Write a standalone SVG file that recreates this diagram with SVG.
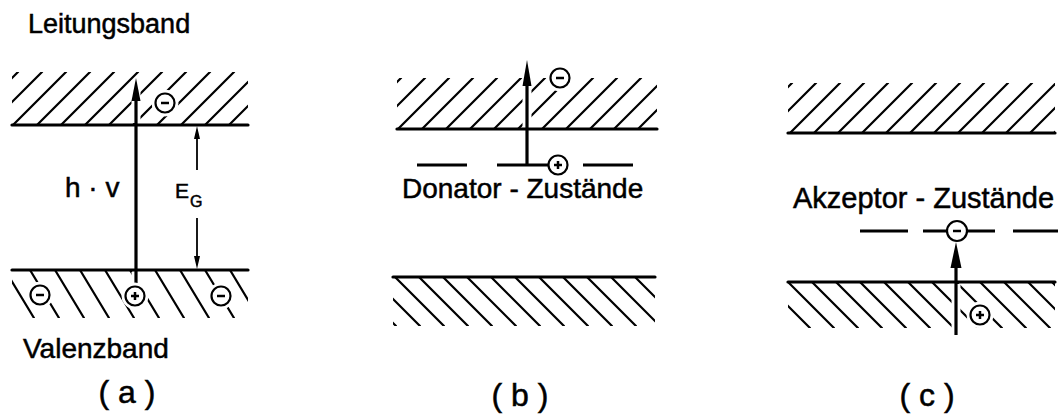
<svg xmlns="http://www.w3.org/2000/svg" width="1061" height="416" viewBox="0 0 1061 416">
<style>
text{font-family:"Liberation Sans",Arial,sans-serif;fill:#000;stroke:#000;stroke-width:0.5}
.hatch{fill:none;stroke:#000;stroke-width:2.2;stroke-linecap:round}
.edge{stroke:#000;stroke-width:3.2;stroke-linecap:round}
.lvl{stroke:#000;stroke-width:3;stroke-linecap:butt}
.halo{stroke:#fff;fill:#fff}
.circ{fill:#fff;stroke:#000;stroke-width:2.2}
.sign{stroke:#000;stroke-width:2.5;stroke-linecap:butt}
.arr{stroke:#000;fill:none}
.head{fill:#000;stroke:none}
</style>
<defs>
<clipPath id="cAt"><rect x="12" y="72" width="236" height="53"/></clipPath>
<clipPath id="cAb"><rect x="12" y="270" width="236" height="48"/></clipPath>
<clipPath id="cBt"><rect x="397" y="78" width="260" height="51"/></clipPath>
<clipPath id="cBb"><rect x="393" y="277" width="262" height="49"/></clipPath>
<clipPath id="cCt"><rect x="788" y="83" width="267" height="50"/></clipPath>
<clipPath id="cCb"><rect x="788" y="282" width="267" height="46"/></clipPath>
</defs>
<rect width="1061" height="416" fill="#fff"/>

<g id="panel-a">
  <g id="a-conduction">
    <path class="hatch" clip-path="url(#cAt)" d="M-35,125L18,72M-11,125L42,72M13,125L66,72M37,125L90,72M61,125L114,72M85,125L138,72M109,125L162,72M133,125L186,72M157,125L210,72M181,125L234,72M205,125L258,72M229,125L282,72"/>
    <line class="edge" x1="12" y1="125" x2="248" y2="125"/>
  </g>
  <g id="a-valence">
    <path class="hatch" clip-path="url(#cAb)" d="M-20,270L9,318M5,270L34,318M30,270L59,318M55,270L84,318M80,270L109,318M105,270L134,318M130,270L159,318M155,270L184,318M180,270L209,318M205,270L234,318M230,270L259,318"/>
    <line class="edge" x1="12" y1="270" x2="248" y2="270"/>
  </g>
  <text x="28" y="33" font-size="27">Leitungsband</text>
  <text x="23" y="358" font-size="28">Valenzband</text>
  <text x="65" y="197" font-size="28">h · v</text>
  <text x="175" y="198" font-size="21">E</text>
  <text x="190" y="207" font-size="16">G</text>
  <text x="127" y="403" font-size="32" text-anchor="middle">( a )</text>
</g>

<g id="panel-b">
  <g id="b-conduction">
    <path class="hatch" clip-path="url(#cBt)" d="M350,129L401,78M374,129L425,78M398,129L449,78M422,129L473,78M446,129L497,78M470,129L521,78M494,129L545,78M518,129L569,78M542,129L593,78M566,129L617,78M590,129L641,78M614,129L665,78M638,129L689,78"/>
    <line class="edge" x1="397" y1="129" x2="657" y2="129"/>
  </g>
  <g id="b-valence">
    <path class="hatch" clip-path="url(#cBb)" d="M347,277L396,326M371,277L420,326M395,277L444,326M419,277L468,326M443,277L492,326M467,277L516,326M491,277L540,326M515,277L564,326M539,277L588,326M563,277L612,326M587,277L636,326M611,277L660,326M635,277L684,326"/>
    <line class="edge" x1="393" y1="277" x2="655" y2="277"/>
  </g>
  <g id="b-donor-levels">
    <line class="lvl" x1="417" y1="165" x2="467" y2="165"/>
    <line class="lvl" x1="497" y1="165" x2="549" y2="165"/>
    <line class="lvl" x1="583" y1="165" x2="633" y2="165"/>
  </g>
  <text x="402" y="198" font-size="28">Donator - Zustände</text>
  <text x="520" y="406" font-size="32" text-anchor="middle">( b )</text>
</g>

<g id="panel-c">
  <g id="c-conduction">
    <path class="hatch" clip-path="url(#cCt)" d="M742,133L792,83M766,133L816,83M790,133L840,83M814,133L864,83M838,133L888,83M862,133L912,83M886,133L936,83M910,133L960,83M934,133L984,83M958,133L1008,83M982,133L1032,83M1006,133L1056,83M1030,133L1080,83M1054,133L1104,83"/>
    <line class="edge" x1="788" y1="133" x2="1055" y2="133"/>
  </g>
  <g id="c-valence">
    <path class="hatch" clip-path="url(#cCb)" d="M740,282L786,328M764,282L810,328M788,282L834,328M812,282L858,328M836,282L882,328M860,282L906,328M884,282L930,328M908,282L954,328M932,282L978,328M956,282L1002,328M980,282L1026,328M1004,282L1050,328M1028,282L1074,328M1052,282L1098,328"/>
    <line class="edge" x1="788" y1="282" x2="1055" y2="282"/>
  </g>
  <g id="c-acceptor-levels">
    <line class="lvl" x1="860" y1="231" x2="908" y2="231"/>
    <line class="lvl" x1="923" y1="231" x2="995" y2="231"/>
    <line class="lvl" x1="1013" y1="231" x2="1058" y2="231"/>
  </g>
  <text x="793" y="208" font-size="29">Akzeptor - Zustände</text>
  <text x="927" y="406" font-size="32" text-anchor="middle">( c )</text>
</g>

<g id="connectors">
  <line class="halo" x1="136" y1="80" x2="136" y2="123" stroke-width="9"/>
  <line class="halo" x1="136" y1="272" x2="136" y2="286" stroke-width="9"/>
  <line class="halo" x1="527" y1="62" x2="527" y2="127" stroke-width="9"/>
  <line class="halo" x1="956" y1="284" x2="956" y2="335" stroke-width="9"/>
  <line class="arr" x1="136" y1="287" x2="136" y2="98" stroke-width="3.2"/>
  <polygon class="head" points="136,78 131.5,101 140.5,101"/>
  <line class="arr" x1="197" y1="136" x2="197" y2="170" stroke-width="1.8"/>
  <polygon class="head" points="197,126 194,139 200,139"/>
  <line class="arr" x1="197" y1="218" x2="197" y2="260" stroke-width="1.8"/>
  <polygon class="head" points="197,269 194,256 200,256"/>
  <line class="arr" x1="527" y1="165" x2="527" y2="80" stroke-width="3.2"/>
  <polygon class="head" points="527,60 522.5,86 531.5,86"/>
  <line class="arr" x1="956" y1="335" x2="956" y2="262" stroke-width="3.2"/>
  <polygon class="head" points="956,242 950.5,268 961.5,268"/>
</g>

<g id="charges">
  <g id="a-electron-cb"><circle class="halo" cx="165" cy="103" r="13"/><circle class="circ" cx="165" cy="103" r="9.5"/><line class="sign" x1="161" y1="103" x2="169" y2="103"/></g>
  <g id="a-electron-vb1"><circle class="halo" cx="40" cy="295" r="13"/><circle class="circ" cx="40" cy="295" r="9.5"/><line class="sign" x1="36" y1="295" x2="44" y2="295"/></g>
  <g id="a-hole-vb"><circle class="halo" cx="135" cy="296" r="13"/><circle class="circ" cx="135" cy="296" r="9.5"/><line class="sign" x1="131" y1="296" x2="139" y2="296"/><line class="sign" x1="135" y1="292" x2="135" y2="300"/></g>
  <g id="a-electron-vb2"><circle class="halo" cx="221" cy="296" r="13"/><circle class="circ" cx="221" cy="296" r="9.5"/><line class="sign" x1="217" y1="296" x2="225" y2="296"/></g>
  <g id="b-electron-cb"><circle class="halo" cx="560" cy="78" r="13"/><circle class="circ" cx="560" cy="78" r="9.5"/><line class="sign" x1="556" y1="78" x2="564" y2="78"/></g>
  <g id="b-donor-ion"><circle class="circ" cx="558" cy="165" r="9.5"/><line class="sign" x1="554" y1="165" x2="562" y2="165"/><line class="sign" x1="558" y1="161" x2="558" y2="169"/></g>
  <g id="c-acceptor-ion"><circle class="circ" cx="957" cy="231" r="10"/><line class="sign" x1="953" y1="231" x2="961" y2="231"/></g>
  <g id="c-hole-vb"><circle class="halo" cx="980" cy="315" r="13"/><circle class="circ" cx="980" cy="315" r="9.5"/><line class="sign" x1="976" y1="315" x2="984" y2="315"/><line class="sign" x1="980" y1="311" x2="980" y2="319"/></g>
</g>
</svg>
